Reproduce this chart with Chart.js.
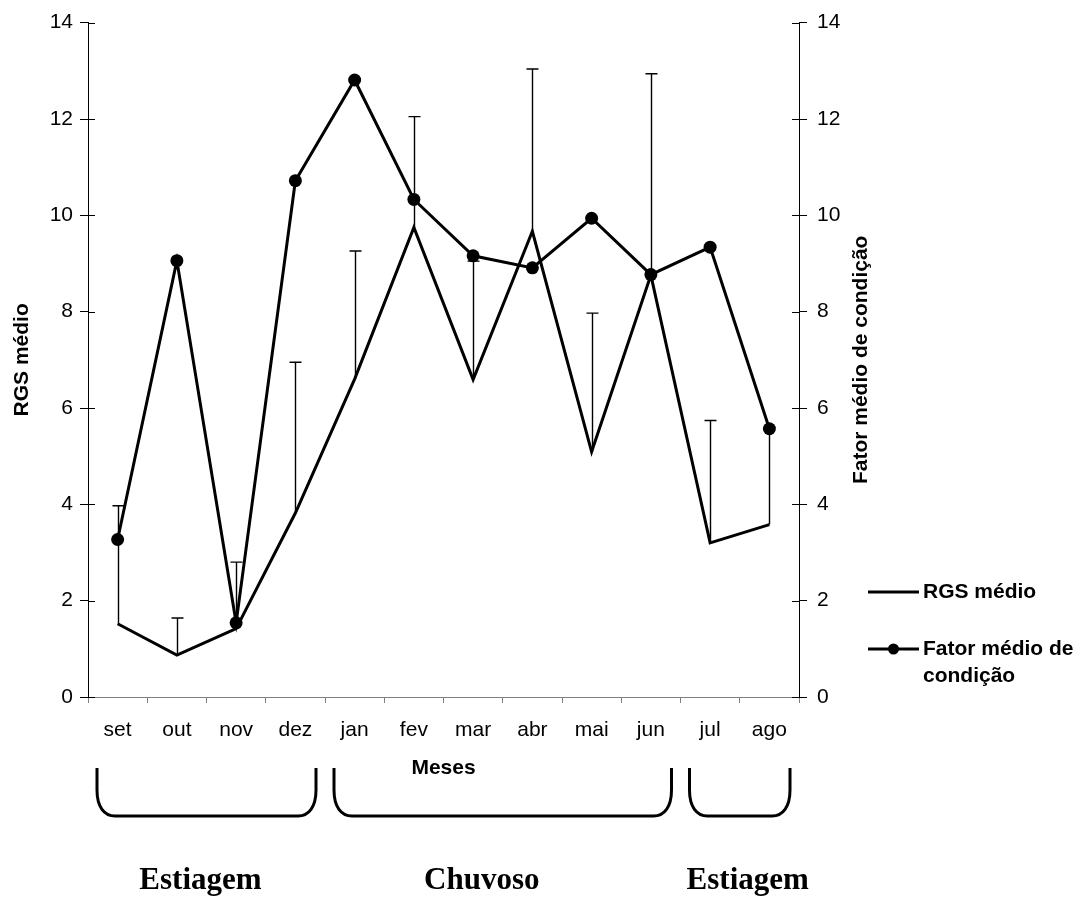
<!DOCTYPE html>
<html>
<head>
<meta charset="utf-8">
<title>RGS médio e Fator médio de condição</title>
<script src="https://cdn.jsdelivr.net/npm/chart.js@4.4.1/dist/chart.umd.min.js"></script>
<style>
  html, body { margin: 0; padding: 0; background: #ffffff; }
  canvas { display: block; }
</style>
</head>
<body>
<canvas id="chart" width="1090" height="898"></canvas>
<script>
// Months of the sampling year (September to August)
const months = ['set', 'out', 'nov', 'dez', 'jan', 'fev', 'mar', 'abr', 'mai', 'jun', 'jul', 'ago'];

// Mean gonadosomatic ratio (RGS) and its standard deviation (upper bar only)
const rgsMean = [1.52, 0.87, 1.42, 3.82, 6.60, 9.75, 6.59, 9.67, 5.09, 8.76, 3.20, 3.58];
const rgsSd   = [2.45, 0.77, 1.38, 3.13, 2.66, 2.30, 2.46, 3.37, 2.88, 4.18, 2.54, 2.02];

// Mean condition factor
const fatorMean = [3.27, 9.06, 1.54, 10.72, 12.81, 10.33, 9.16, 8.91, 9.94, 8.77, 9.34, 5.57];

// Axis range shared by both vertical axes
const axisMin = 0;
const axisMax = 14;
const axisStep = 2;

// Seasonal periods marked under the month axis
const periodNames = ['Estiagem', 'Chuvoso', 'Estiagem'];
const periodFirstMonth = [0, 4, 10];
const periodLastMonth = [3, 9, 11];

const SANS = '"Liberation Sans", Arial, sans-serif';
const SERIF = '"Liberation Serif", "Times New Roman", serif';

// Upper standard-deviation bars for the RGS series
const errorBarPlugin = {
  id: 'errorBars',
  beforeDatasetsDraw(chart) {
    const meta = chart.getDatasetMeta(0);
    const yScale = chart.scales.y;
    const ctx = chart.ctx;
    ctx.save();
    ctx.strokeStyle = '#000';
    ctx.lineWidth = 1.4;
    meta.data.forEach((pt, i) => {
      const x = Math.round(pt.x) + 0.5;
      const yBase = yScale.getPixelForValue(rgsMean[i]);
      const yTop = yScale.getPixelForValue(rgsMean[i] + rgsSd[i]);
      ctx.beginPath();
      ctx.moveTo(x, yBase);
      ctx.lineTo(x, yTop);
      ctx.moveTo(x - 6, yTop);
      ctx.lineTo(x + 6, yTop);
      ctx.stroke();
    });
    ctx.restore();
  }
};

// Tick marks of the value axes cross the axis line into the plot
const innerTicksPlugin = {
  id: 'innerTicks',
  afterDraw(chart) {
    const ctx = chart.ctx;
    ctx.save();
    ctx.strokeStyle = '#000';
    ctx.lineWidth = 1;
    ['y', 'y2'].forEach(id => {
      const s = chart.scales[id];
      const edge = id === 'y' ? chart.chartArea.left : chart.chartArea.right;
      const dir = id === 'y' ? 1 : -1;
      s.ticks.forEach(t => {
        const py = Math.round(s.getPixelForValue(t.value)) + 0.5;
        ctx.beginPath();
        ctx.moveTo(edge, py);
        ctx.lineTo(edge + dir * 7, py);
        ctx.stroke();
      });
    });
    ctx.restore();
  }
};

// Right axis title, read from bottom to top
const rightTitlePlugin = {
  id: 'rightTitle',
  afterDraw(chart, args, opts) {
    const ctx = chart.ctx;
    const area = chart.chartArea;
    ctx.save();
    ctx.translate(opts.x, (area.top + area.bottom) / 2);
    ctx.rotate(-Math.PI / 2);
    ctx.font = 'bold 21px ' + SANS;
    ctx.fillStyle = '#000';
    ctx.textAlign = 'center';
    ctx.textBaseline = 'middle';
    ctx.fillText(opts.text, 0, 0);
    ctx.restore();
  }
};

// Legend beside the right axis
const sideLegendPlugin = {
  id: 'sideLegend',
  afterDraw(chart, args, opts) {
    const ctx = chart.ctx;
    ctx.save();
    ctx.font = 'bold 21px ' + SANS;
    ctx.fillStyle = '#000';
    ctx.textAlign = 'left';
    ctx.textBaseline = 'middle';
    chart.data.datasets.forEach((ds, i) => {
      const y = opts.rowY[i];
      ctx.strokeStyle = ds.borderColor;
      ctx.lineWidth = ds.borderWidth;
      ctx.beginPath();
      ctx.moveTo(opts.x0, y);
      ctx.lineTo(opts.x1, y);
      ctx.stroke();
      if (ds.pointRadius > 0) {
        ctx.beginPath();
        ctx.arc((opts.x0 + opts.x1) / 2, y, 5.5, 0, Math.PI * 2);
        ctx.fillStyle = ds.pointBackgroundColor;
        ctx.fill();
        ctx.fillStyle = '#000';
      }
      opts.lines[i].forEach((txt, k) => {
        ctx.fillText(txt, opts.x1 + 4, y + k * 27);
      });
    });
    ctx.restore();
  }
};

// Brackets and names of the seasonal periods under the month axis
const periodsPlugin = {
  id: 'periods',
  afterDraw(chart, args, opts) {
    const ctx = chart.ctx;
    const xs = chart.scales.x;
    const half = (xs.getPixelForValue(1) - xs.getPixelForValue(0)) / 2;
    ctx.save();
    ctx.strokeStyle = '#000';
    ctx.lineWidth = 3;
    ctx.lineJoin = 'round';
    periodNames.forEach((name, i) => {
      const left = xs.getPixelForValue(periodFirstMonth[i]) - half + opts.inset;
      const right = xs.getPixelForValue(periodLastMonth[i]) + half - opts.inset;
      const top = opts.top, bottom = opts.bottom, rx = opts.rx, ry = opts.ry;
      ctx.beginPath();
      ctx.moveTo(left, top);
      ctx.lineTo(left, bottom - ry);
      ctx.bezierCurveTo(left, bottom - ry * 0.35, left + rx * 0.4, bottom, left + rx, bottom);
      ctx.lineTo(right - rx, bottom);
      ctx.bezierCurveTo(right - rx * 0.4, bottom, right, bottom - ry * 0.35, right, bottom - ry);
      ctx.lineTo(right, top);
      ctx.stroke();

      ctx.font = 'bold 31px ' + SERIF;
      ctx.fillStyle = '#000';
      ctx.textAlign = 'center';
      ctx.textBaseline = 'alphabetic';
      ctx.fillText(name, (left + right) / 2 + opts.labelShift[i], opts.labelBaseline);
    });
    ctx.restore();
  }
};

const tickFont = { family: SANS, size: 21 };
const titleFont = { family: SANS, size: 21, weight: 'bold' };

new Chart(document.getElementById('chart'), {
  type: 'line',
  data: {
    labels: months,
    datasets: [
      {
        label: 'RGS médio',
        data: rgsMean,
        yAxisID: 'y',
        borderColor: '#000',
        borderWidth: 3,
        tension: 0,
        pointRadius: 0,
        pointHoverRadius: 0,
        fill: false
      },
      {
        label: 'Fator médio de condição',
        data: fatorMean,
        yAxisID: 'y2',
        borderColor: '#000',
        borderWidth: 3,
        tension: 0,
        pointRadius: 6.5,
        pointHoverRadius: 6.5,
        pointBackgroundColor: '#000',
        pointBorderColor: '#000',
        pointBorderWidth: 0,
        fill: false
      }
    ]
  },
  options: {
    responsive: false,
    animation: false,
    events: [],
    layout: { padding: { top: 22.7, left: 0, right: 0, bottom: 0 } },
    plugins: {
      legend: { display: false },
      tooltip: { enabled: false },
      rightTitle: { text: 'Fator médio de condição', x: 861 },
      sideLegend: {
        x0: 868, x1: 919,
        rowY: [592, 649],
        lines: [['RGS médio'], ['Fator médio de', 'condição']]
      },
      periods: {
        inset: 9, top: 768, bottom: 816, rx: 18, ry: 26,
        labelBaseline: 889, labelShift: [-6, -21, 8]
      }
    },
    scales: {
      x: {
        type: 'category',
        offset: true,
        grid: { offset: true, drawOnChartArea: false, drawTicks: true, tickLength: 6, color: '#808080', lineWidth: 1 },
        border: { display: true, color: '#808080', width: 1 },
        ticks: { font: tickFont, color: '#000', padding: 15, maxRotation: 0, autoSkip: false },
        title: { display: true, text: 'Meses', font: titleFont, color: '#000', padding: { top: 0, bottom: 117 } },
        afterFit(s) { s.height = 201; }
      },
      y: {
        position: 'left',
        min: axisMin, max: axisMax,
        ticks: { stepSize: axisStep, font: tickFont, color: '#000', padding: 7 },
        grid: { drawOnChartArea: false, drawTicks: true, tickLength: 8, color: '#000', lineWidth: 1 },
        border: { display: true, color: '#000', width: 1 },
        title: { display: true, text: 'RGS médio', font: titleFont, color: '#000', padding: { top: 9.4, bottom: 0 } },
        afterFit(s) { s.width = 88; }
      },
      y2: {
        position: 'right',
        min: axisMin, max: axisMax,
        ticks: { stepSize: axisStep, font: tickFont, color: '#000', padding: 10 },
        grid: { drawOnChartArea: false, drawTicks: true, tickLength: 8, color: '#000', lineWidth: 1 },
        border: { display: true, color: '#000', width: 1 },
        afterFit(s) { s.width = 291; }
      }
    }
  },
  plugins: [errorBarPlugin, innerTicksPlugin, rightTitlePlugin, sideLegendPlugin, periodsPlugin]
});
</script>
</body>
</html>
